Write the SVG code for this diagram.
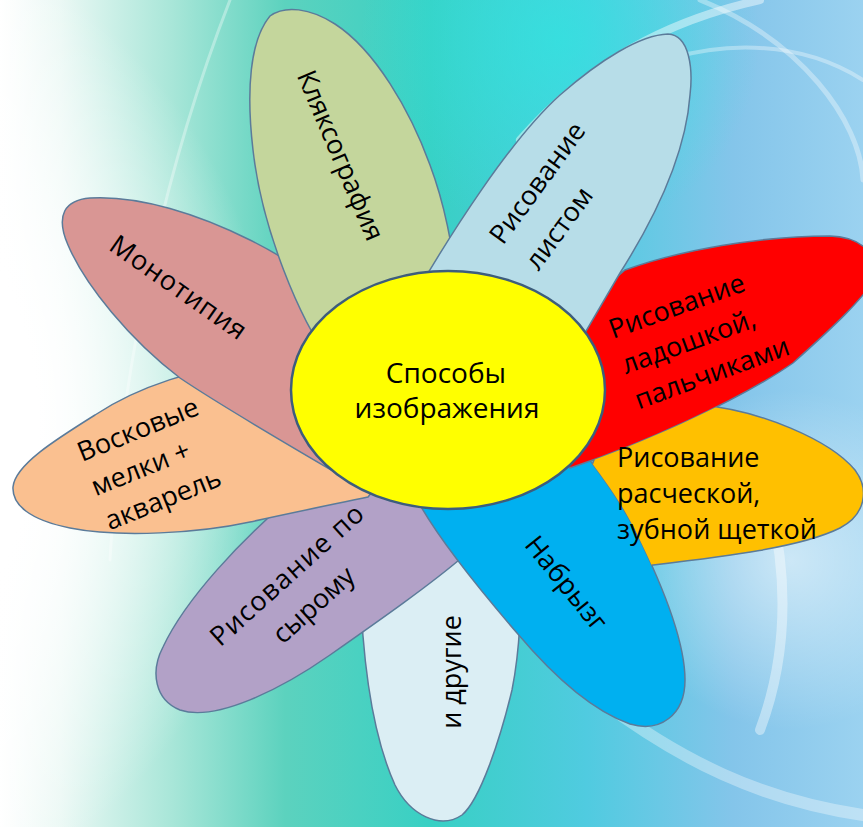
<svg xmlns="http://www.w3.org/2000/svg" width="863" height="827" viewBox="0 0 863 827">
<defs>
<style>
.petal{stroke:#5b7b9a;stroke-width:1.5}
.t{font-family:"Open Sans","Noto Sans","Liberation Sans",sans-serif;font-size:27px;fill:#000}
.c{font-family:"Open Sans","Noto Sans","Liberation Sans",sans-serif;font-size:28px;fill:#000;text-anchor:middle}
.m{text-anchor:middle}
.arc{fill:none;stroke:#ffffff;stroke-linecap:round}
</style>
<linearGradient id="bg" x1="0" y1="0" x2="863" y2="0" gradientUnits="userSpaceOnUse">
<stop offset="0" stop-color="#ffffff"/>
<stop offset="0.07" stop-color="#eaf8f4"/>
<stop offset="0.2" stop-color="#a8e6d8"/>
<stop offset="0.33" stop-color="#5cd2be"/>
<stop offset="0.5" stop-color="#38d0c4"/>
<stop offset="0.68" stop-color="#50cbe0"/>
<stop offset="0.85" stop-color="#84c5ea"/>
<stop offset="1" stop-color="#9bd2f0"/>
</linearGradient>
<radialGradient id="glowL" cx="-260" cy="420" r="540" gradientUnits="userSpaceOnUse">
<stop offset="0.55" stop-color="#ffffff" stop-opacity="1"/>
<stop offset="1" stop-color="#ffffff" stop-opacity="0"/>
</radialGradient>
<radialGradient id="glowR" cx="790" cy="560" r="170" gradientUnits="userSpaceOnUse">
<stop offset="0" stop-color="#ffffff" stop-opacity="0.55"/>
<stop offset="1" stop-color="#ffffff" stop-opacity="0"/>
</radialGradient>
<radialGradient id="glowT" cx="560" cy="40" r="200" gradientUnits="userSpaceOnUse">
<stop offset="0" stop-color="#2fe6e0" stop-opacity="0.7"/>
<stop offset="1" stop-color="#2fe6e0" stop-opacity="0"/>
</radialGradient>
<clipPath id="clipOR">
<path clip-rule="evenodd" d="M0,0 H863 V827 H0 Z M430,470 L420,505 C440,540 480,590 517,633 C550,672 590,710 630,724 C660,733 685,715 685,680 C685,640 660,580 635,530 C620,500 603,478 586,455 Z M560,440 L590,300 L625,270 C680,250 760,236 830,236 C862,237 878,255 876,275 C868,295 830,330 793,363 C740,400 640,445 570,468 Z"/>
</clipPath>
</defs>

<g id="background">
<rect width="863" height="827" fill="url(#bg)"/>
<rect width="863" height="827" fill="url(#glowT)"/>
<rect width="863" height="827" fill="url(#glowL)"/>
<rect width="863" height="827" fill="url(#glowR)"/>
<path class="arc" d="M520,140 C590,60 670,20 760,0" stroke-width="8" opacity="0.45"/>
<path class="arc" d="M600,90 C700,30 800,40 863,80" stroke-width="4" opacity="0.35"/>
<path class="arc" d="M700,0 C800,40 860,120 863,180" stroke-width="5" opacity="0.35"/>
<path class="arc" d="M760,470 C790,560 790,650 760,730" stroke-width="10" opacity="0.4"/>
<path class="arc" d="M600,700 C680,760 760,800 863,815" stroke-width="12" opacity="0.35"/>
<path class="arc" d="M230,0 C160,180 120,380 110,560" stroke-width="3" opacity="0.35"/>
</g>

<g id="petal-drugie">
<path class="petal" fill="#dbeef4" d="M440,470 L360,580 C362,650 370,730 395,785 C410,815 440,830 462,815 C480,800 500,740 512,690 C520,650 522,600 520,560 Z"/>
<text class="t m" transform="translate(461,672) rotate(-90)">и другие</text>
</g>

<g id="petal-syromu">
<path class="petal" fill="#b2a1c7" d="M420,470 L300,490 C240,540 185,600 163,647 C150,672 155,700 180,710 C215,722 280,690 330,655 C380,620 430,585 465,555 Z"/>
<g transform="translate(293,582) rotate(-42)">
<text class="t m" x="0" y="0" textLength="196">Рисование по</text>
<text class="t m" x="0" y="40">сырому</text>
</g>
</g>

<g id="petal-voskovye">
<path class="petal" fill="#fac090" d="M380,482 L240,365 C200,368 140,385 95,415 C55,440 15,465 13,487 C12,505 30,520 70,528 C120,538 200,533 250,522 C300,511 340,503 368,497 Z"/>
<g transform="translate(82,462) rotate(-22)">
<text class="t" x="0" y="0">Восковые</text>
<text class="t" x="0" y="37">мелки +</text>
<text class="t" x="0" y="74">акварель</text>
</g>
</g>

<g id="petal-monotipiya">
<path class="petal" fill="#d99694" d="M430,420 L345,478 C290,446 220,405 180,378 C130,340 85,285 68,245 C55,215 65,200 90,198 C140,195 200,215 250,240 C300,265 330,290 350,310 Z"/>
<text class="t m" transform="translate(173,295) rotate(35)" textLength="160">Монотипия</text>
</g>

<g id="petal-klyaksografiya">
<path class="petal" fill="#c4d69c" d="M330,360 C300,320 262,230 253,150 C246,90 250,40 270,16 C285,5 310,8 335,24 C375,50 410,110 430,165 C445,205 452,245 458,290 L430,400 Z"/>
<text class="t m" transform="translate(332,159) rotate(67)" textLength="182">Кляксография</text>
</g>

<g id="petal-nabryzg">
<path class="petal" fill="#00b0f0" d="M430,470 L420,505 C440,540 480,590 517,633 C550,672 590,710 630,724 C660,733 685,715 685,680 C685,640 660,580 635,530 C620,500 603,478 586,455 Z"/>
<text class="t m" transform="translate(559,589) rotate(51)">Набрызг</text>
</g>

<g id="petal-ladoshkoy">
<path class="petal" fill="#ff0000" d="M560,440 L590,300 L625,270 C680,250 760,236 830,236 C862,237 878,255 876,275 C868,295 830,330 793,363 C740,400 640,445 570,468 Z"/>
<g transform="translate(613,339) rotate(-20)">
<text class="t" x="0" y="0">Рисование</text>
<text class="t" x="0" y="37.5">ладошкой,</text>
<text class="t" x="0" y="75">пальчиками</text>
</g>
</g>

<g id="petal-raschoskoy">
<path class="petal" fill="#ffc000" clip-path="url(#clipOR)" d="M700,405 C760,410 830,440 855,470 C870,490 865,515 840,528 C800,548 720,557 645,566 L625,540 L590,470 L600,445 Z"/>
<text class="t" x="617" y="467">Рисование</text>
<text class="t" x="617" y="503">расческой,</text>
<text class="t" x="617" y="539" textLength="200">зубной щеткой</text>
</g>

<g id="petal-listom">
<path class="petal" fill="#b7dde8" d="M480,400 L415,295 C450,235 510,140 560,95 C600,60 640,35 668,34 C690,35 693,70 690,95 C686,150 660,210 620,273 L575,350 Z"/>
<g transform="translate(503,246) rotate(-54)">
<text class="t" x="0" y="0">Рисование</text>
<text class="t" x="0" y="44">листом</text>
</g>
</g>

<g id="center">
<ellipse cx="448" cy="390" rx="157" ry="119" fill="#ffff00" stroke="#3d5d7c" stroke-width="2.5"/>
<text class="c" x="446" y="383">Способы</text>
<text class="c" x="447" y="418">изображения</text>
</g>

<g id="connectors"></g>
</svg>
